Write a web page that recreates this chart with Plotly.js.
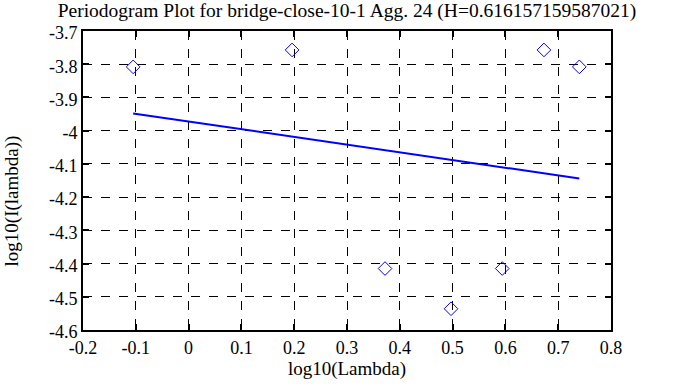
<!DOCTYPE html>
<html>
<head>
<meta charset="utf-8">
<script src="https://cdn.plot.ly/plotly-3.0.1.min.js"></script>
<style>html,body{margin:0;padding:0;background:#fff;}#chart{width:695px;height:387px;}</style>
</head>
<body>
<div id="chart"></div>
<script>
// Data
const logLambda = [-0.105, 0.196, 0.372, 0.497, 0.594, 0.673, 0.740];
const logI = [-3.808, -3.757, -4.415, -4.536, -4.415, -3.757, -3.808];
const fitX = [-0.105, 0.740];
const fitY = [-3.948, -4.144];
const xTicks = [-0.2, -0.1, 0, 0.1, 0.2, 0.3, 0.4, 0.5, 0.6, 0.7, 0.8];
const xTickText = ['-0.2', '-0.1', '0', '0.1', '0.2', '0.3', '0.4', '0.5', '0.6', '0.7', '0.8'];
const yTicks = [-4.6, -4.5, -4.4, -4.3, -4.2, -4.1, -4, -3.9, -3.8, -3.7];
const yTickText = ['-4.6', '-4.5', '-4.4', '-4.3', '-4.2', '-4.1', '-4', '-3.9', '-3.8', '-3.7'];
const titleText = 'Periodogram Plot for bridge-close-10-1 Agg. 24 (H=0.616157159587021)';
const xTitle = 'log10(Lambda)';
const yTitle = 'log10(I(lambda))';

const fam = 'Liberation Serif, Times New Roman, serif';
const tickFont = {family: fam, size: 18, color: '#000'};
const labFont = {family: fam, size: 19, color: '#000'};

const traces = [
  {x: logLambda, y: logI, type: 'scatter', mode: 'markers',
   marker: {symbol: 'diamond-open', size: 10.5, color: '#0000ff', line: {width: 1, color: '#0000ff'}},
   hoverinfo: 'none'},
  {x: fitX, y: fitY, type: 'scatter', mode: 'lines',
   line: {color: '#0000ff', width: 2}, hoverinfo: 'none'}
];

const axisCommon = {
  showline: true, linecolor: '#000', linewidth: 2, mirror: 'allticks',
  ticks: 'inside', ticklen: 6, tickwidth: 2, tickcolor: '#000',
  showgrid: true, gridcolor: '#000', griddash: 'dash', gridwidth: 1,
  zeroline: false, tickfont: tickFont, tickmode: 'array'
};

const layout = {
  width: 695, height: 387,
  margin: {l: 83, r: 84, t: 31, b: 57},
  paper_bgcolor: '#fff', plot_bgcolor: '#fff',
  showlegend: false,
  font: labFont,
  title: {text: titleText, font: {family: fam, size: 19.5, color: '#000'},
          x: 0.5, xref: 'paper', xanchor: 'center', y: 0.973, yref: 'container', yanchor: 'middle',
          pad: {t: 0, b: 0}},
  xaxis: Object.assign({}, axisCommon, {
    range: [-0.2, 0.8], tickvals: xTicks, ticktext: xTickText,
    title: {text: xTitle, font: labFont, standoff: 4}
  }),
  yaxis: Object.assign({}, axisCommon, {
    range: [-4.6, -3.7], tickvals: yTicks, ticktext: yTickText,
    ticklabelshift: 2
  }),
  annotations: [
    {text: yTitle, xref: 'paper', yref: 'paper', x: 0, y: 0.43,
     xanchor: 'left', yanchor: 'middle', xshift: -84, textangle: -90,
     showarrow: false, font: labFont}
  ]
};

Plotly.newPlot('chart', traces, layout, {staticPlot: true, displayModeBar: false});
</script>
</body>
</html>
